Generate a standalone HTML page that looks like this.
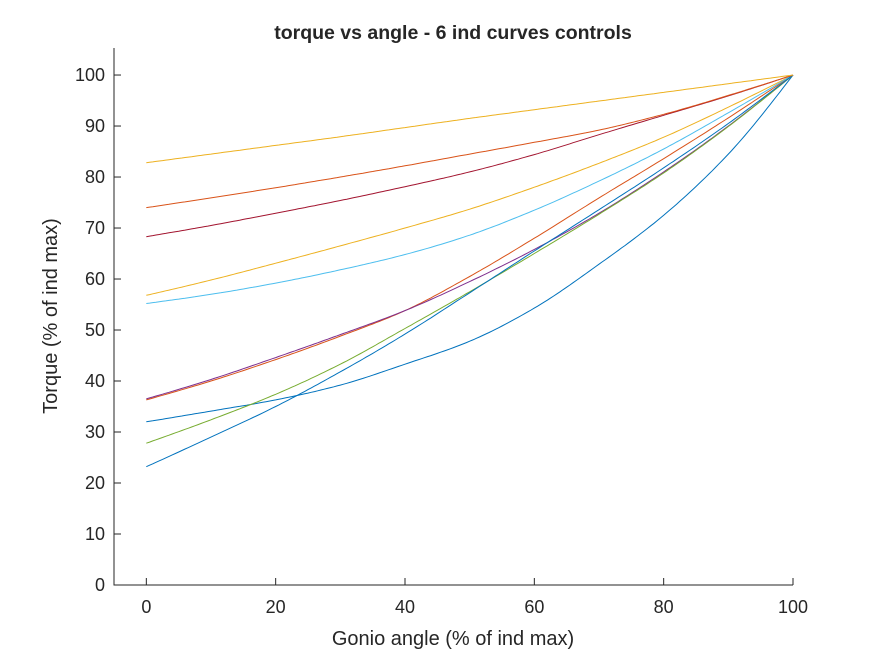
<!DOCTYPE html>
<html><head><meta charset="utf-8"><style>
body{margin:0;background:#fff}
svg text{font-family:"Liberation Sans",Arial,sans-serif;fill:#262626}
</style></head><body>
<svg id="c" width="875" height="656" xmlns="http://www.w3.org/2000/svg">
<rect width="875" height="656" fill="#fff"/>
</svg>
<script>
const xs=[0,10,20,30,40,50,60,70,80,90,100];
const sYellowTop=[82.8,84.5,86.2,87.9,89.7,91.5,93.2,94.9,96.6,98.3,100];
const sOrangeTop=[74,75.9,77.9,80.0,82.2,84.5,86.8,89.2,92.3,96.0,100];
const sDarkRed=[68.3,70.5,72.9,75.4,78.1,81.0,84.4,88.3,92.1,95.9,100];
const sYellowMid=[56.8,59.8,63.1,66.5,70.0,73.7,78.0,82.7,87.8,93.7,100];
const sLightBlue=[55.2,57.0,59.2,61.8,64.8,68.6,73.5,79.2,85.5,92.6,100];
const sOrangeLow=[36.3,40.0,44.2,48.8,53.8,60.5,68.0,75.9,83.6,91.6,100];
const sPurple=[36.5,40.3,44.6,49.1,53.8,59.5,65.8,72.9,81.0,90.0,100];
const sGreen=[27.8,32.4,37.4,43.3,50.3,57.5,65.0,72.7,80.8,89.9,100];
const sBlueSteep=[23.2,29.0,35.0,41.8,49.2,57.3,65.5,73.6,81.8,90.5,100];
const sBlueLow=[32.0,34.1,36.3,39.2,43.3,47.8,54.3,62.9,72.5,84.5,100];
const seriesList=[sBlueLow,sOrangeLow,sYellowMid,sPurple,sGreen,sLightBlue,sDarkRed,sBlueSteep,sOrangeTop,sYellowTop];
const colors=["#0072BD","#D95319","#EDB120","#7E2F8E","#77AC30","#4DBEEE","#A2142F","#0072BD","#D95319","#EDB120"];
const names=["curve-blue-low","curve-orange-low","curve-yellow-mid","curve-purple","curve-green","curve-lightblue","curve-darkred","curve-blue-steep","curve-orange-top","curve-yellow-top"];
const xTicks=[0,20,40,60,80,100];
const yTicks=[0,10,20,30,40,50,60,70,80,90,100];
const NS="http://www.w3.org/2000/svg";
const svg=document.getElementById('c');
const L=114,R=793,T=48,B=585,xmin=-5,xmax=100,ymin=0,ymax=105.3;
const X=v=>L+(v-xmin)/(xmax-xmin)*(R-L);
const Y=v=>B-(v-ymin)/(ymax-ymin)*(B-T);
function mk(t,a){const e=document.createElementNS(NS,t);for(const k in a)e.setAttribute(k,a[k]);svg.appendChild(e);return e;}
function monotone(x,y){
 const n=x.length,d=[],m=new Array(n);
 for(let i=0;i<n-1;i++)d.push((y[i+1]-y[i])/(x[i+1]-x[i]));
 for(let i=1;i<n-1;i++){m[i]=(d[i-1]*d[i]<=0)?0:2/(1/d[i-1]+1/d[i]);}
 m[0]=Math.max(0,1.5*d[0]-0.5*m[1]);m[n-1]=Math.max(0,1.5*d[n-2]-0.5*m[n-2]);
 return m;
}
seriesList.forEach((s,i)=>{
 const m=monotone(xs,s);let pts=[];
 for(let j=0;j<xs.length-1;j++){
  const h=xs[j+1]-xs[j];
  for(let k=0;k<20;k++){const t=k/20;
   const h00=2*t*t*t-3*t*t+1,h10=t*t*t-2*t*t+t,h01=-2*t*t*t+3*t*t,h11=t*t*t-t*t;
   const v=h00*s[j]+h10*h*m[j]+h01*s[j+1]+h11*h*m[j+1];
   pts.push(X(xs[j]+h*t).toFixed(1)+','+Y(v).toFixed(1));}
 }
 pts.push(X(xs[xs.length-1])+','+Y(s[s.length-1]));
 const e=mk('polyline',{points:pts.join(' '),fill:'none',stroke:colors[i],'stroke-width':1});
 
 
});
const ax=mk('path',{d:`M${L},${T}V${B}H${R}V${B}`,stroke:'#262626','stroke-width':1,fill:'none'});


xTicks.forEach(v=>{
 mk('line',{x1:X(v),x2:X(v),y1:B,y2:B-7,stroke:'#262626'});
 const t=mk('text',{x:X(v),y:B+28,'text-anchor':'middle','font-size':18});
 t.textContent=v;
 
 
});
yTicks.forEach(v=>{
 mk('line',{x1:L,x2:L+7,y1:Y(v),y2:Y(v),stroke:'#262626'});
 const t=mk('text',{x:L-9,y:Y(v)+6,'text-anchor':'end','font-size':18});
 t.textContent=v;
 
 
});
const ti=mk('text',{x:453,y:39,'text-anchor':'middle','font-size':19.5,'font-weight':'bold'});
ti.textContent='torque vs angle - 6 ind curves controls';


const xl=mk('text',{x:453,y:645,'text-anchor':'middle','font-size':20});
xl.textContent='Gonio angle (% of ind max)';


const yl=mk('text',{x:0,y:0,'text-anchor':'middle','font-size':20,transform:'translate(57,316) rotate(-90)'});
yl.textContent='Torque (% of ind max)';


</script>
</body></html>
